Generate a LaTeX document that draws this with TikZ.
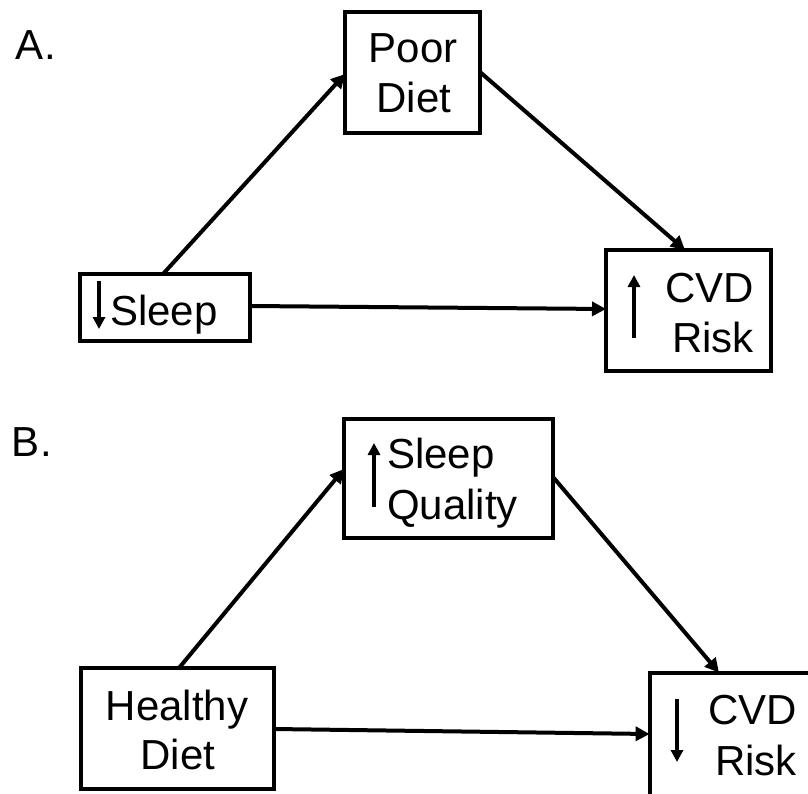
\documentclass[tikz,border=0pt]{standalone}
\usepackage{fontspec}
\setmainfont{Liberation Sans}
\usetikzlibrary{arrows.meta,calc}
\begin{document}
\begin{tikzpicture}[x=1pt,y=-1pt,
  box/.style={draw,line width=4pt,rectangle,inner sep=0pt,outer sep=0pt},
  lbl/.style={font=\fontsize{42}{50}\selectfont,inner sep=0pt,outer sep=0pt},
  conn/.style={line width=4pt,-{Triangle[length=14pt,width=14pt]}},
  updown/.style={line width=3.5pt,-{Triangle[length=12pt,width=12pt]}}]
\useasboundingbox (0,0) rectangle (808,794);
\fill[white] (0,0) rectangle (808,794);
\clip (0,0) rectangle (808,794);

% ---------- Panel A ----------
\node[lbl,anchor=base west] (labA) at (16,60) {A.};
\node[box,minimum width=135pt,minimum height=121pt] (pdA) at (412.5,72.5) {};
\node[box,minimum width=170pt,minimum height=67pt] (sleepA) at (165,307.5) {};
\node[box,minimum width=165pt,minimum height=121pt] (cvdA) at (688.5,310.5) {};

\node[lbl,anchor=base] (tPoor) at (413,63) {Poor};
\node[lbl,anchor=base] (tDietA) at (414,113) {Diet};
\node[lbl,anchor=base west] (tSleepA) at (110,325) {Sleep};
\node[lbl,anchor=base east] (tCVDA) at (754,302) {CVD};
\node[lbl,anchor=base east] (tRiskA) at (754,352) {Risk};

\draw[updown] (99,281) -- (99,329);
\draw[updown] (634,338) -- (634,275);

\draw[conn] ($(sleepA.north west)!(163,0)!(sleepA.north east)$) -- ($(pdA.north west)!(0,74)!(pdA.south west)$);
\draw[conn] ($(pdA.north east)!(0,72)!(pdA.south east)$) -- ($(cvdA.north west)!(685,0)!(cvdA.north east)$);
\draw[conn] ($(sleepA.north east)!(0,306)!(sleepA.south east)$) -- ($(cvdA.north west)!(0,309)!(cvdA.south west)$);

% ---------- Panel B ----------
\node[lbl,anchor=base west] (labB) at (12,456) {B.};
\node[box,minimum width=209pt,minimum height=119pt] (sqB) at (448.5,478.5) {};
\node[box,minimum width=193pt,minimum height=121pt] (hdB) at (177.5,728.5) {};
\node[box,minimum width=170pt,minimum height=130pt] (cvdB) at (734.6,737.6) {};

\node[lbl,anchor=base west] (tSleepB) at (387,468) {Sleep};
\node[lbl,anchor=base west] (tQual) at (387,519) {Quality};
\node[lbl,anchor=base] (tHealthy) at (177,720) {Healthy};
\node[lbl,anchor=base] (tDietB) at (178,769) {Diet};
\node[lbl,anchor=base east] (tCVDB) at (797,724) {CVD};
\node[lbl,anchor=base east] (tRiskB) at (797,775) {Risk};

\draw[updown] (374,507) -- (374,443);
\draw[updown] (677,699) -- (677,762);

\draw[conn] ($(hdB.north west)!(179,0)!(hdB.north east)$) -- ($(sqB.north west)!(0,469)!(sqB.south west)$);
\draw[conn] ($(sqB.north east)!(0,477)!(sqB.south east)$) -- ($(cvdB.north west)!(719,0)!(cvdB.north east)$);
\draw[conn] ($(hdB.north east)!(0,729)!(hdB.south east)$) -- ($(cvdB.north west)!(0,734)!(cvdB.south west)$);
\end{tikzpicture}
\end{document}
